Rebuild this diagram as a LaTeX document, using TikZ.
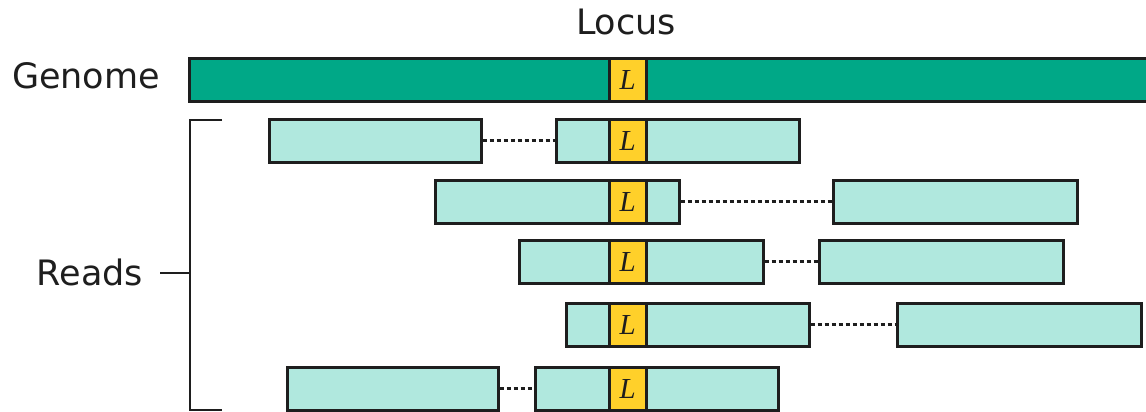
\documentclass[tikz,border=0pt]{standalone}
\usepackage{fontspec}
\setmainfont{DejaVu Sans}
\newfontfamily\locusfont{Liberation Serif}
\definecolor{genomec}{HTML}{00A887}
\definecolor{readc}{HTML}{B0E8DE}
\definecolor{locusc}{HTML}{FFD02A}
\definecolor{edgec}{HTML}{1E1E1E}
\tikzset{
  bar/.style={draw=edgec, line width=2.6pt, inner sep=0pt, anchor=north west, minimum height=43pt},
  genomebar/.style={bar, fill=genomec},
  readbar/.style={bar, fill=readc},
  locusbox/.style={bar, fill=locusc, minimum width=37pt, font=\locusfont\itshape\fontsize{29}{31}\selectfont, text=edgec},
  gapline/.style={draw=edgec, line width=2.8pt, dash pattern=on 4.5pt off 2.5pt},
  bracketline/.style={draw=edgec, line width=2.8pt},
  lbl/.style={font=\fontsize{35}{42}\selectfont, text=edgec}
}
\begin{document}
\begin{tikzpicture}[x=1pt, y=-1pt]
\useasboundingbox (0,0) rectangle (1146,412);
% labels
\node[lbl] (locuslbl) at (626,22) {Locus};
\node[lbl] (genomelbl) at (86,76) {Genome};
\node[lbl] (readslbl) at (90,272) {Reads};
% genome
\node[genomebar, minimum width=970pt] (genome) at (188,57) {};
\node[locusbox] (gL) at (608,57) {L};
% row 1
\node[readbar, minimum width=212pt] (r1a) at (268,118) {};
\node[readbar, minimum width=243pt] (r1b) at (555,118) {};
\node[locusbox] (r1L) at (608,118) {L};
% row 2
\node[readbar, minimum width=244pt] (r2a) at (434,179) {};
\node[readbar, minimum width=244pt] (r2b) at (832,179) {};
\node[locusbox] (r2L) at (608,179) {L};
% row 3
\node[readbar, minimum width=244pt] (r3a) at (518,239) {};
\node[readbar, minimum width=244pt] (r3b) at (818,239) {};
\node[locusbox] (r3L) at (608,239) {L};
% row 4
\node[readbar, minimum width=243pt] (r4a) at (565,302) {};
\node[readbar, minimum width=244pt] (r4b) at (896,302) {};
\node[locusbox] (r4L) at (608,302) {L};
% row 5
\node[readbar, minimum width=211pt] (r5a) at (286,366) {};
\node[readbar, minimum width=243pt] (r5b) at (534,366) {};
\node[locusbox] (r5L) at (608,366) {L};
% gaps
\draw[gapline] (r1a.east) -- (r1b.west);
\draw[gapline] (r2a.east) -- (r2b.west);
\draw[gapline] (r3a.east) -- (r3b.west);
\draw[gapline] (r4a.east) -- (r4b.west);
\draw[gapline] (r5a.east) -- (r5b.west);
% bracket
\coordinate (bt) at (222,120);
\coordinate (bb) at (222,410);
\coordinate (tickend) at (160,273);
\draw[bracketline] (bt) -- (190,120) -- (190,410) -- (bb);
\draw[bracketline] (tickend) -- (190,273);
\end{tikzpicture}
\end{document}
